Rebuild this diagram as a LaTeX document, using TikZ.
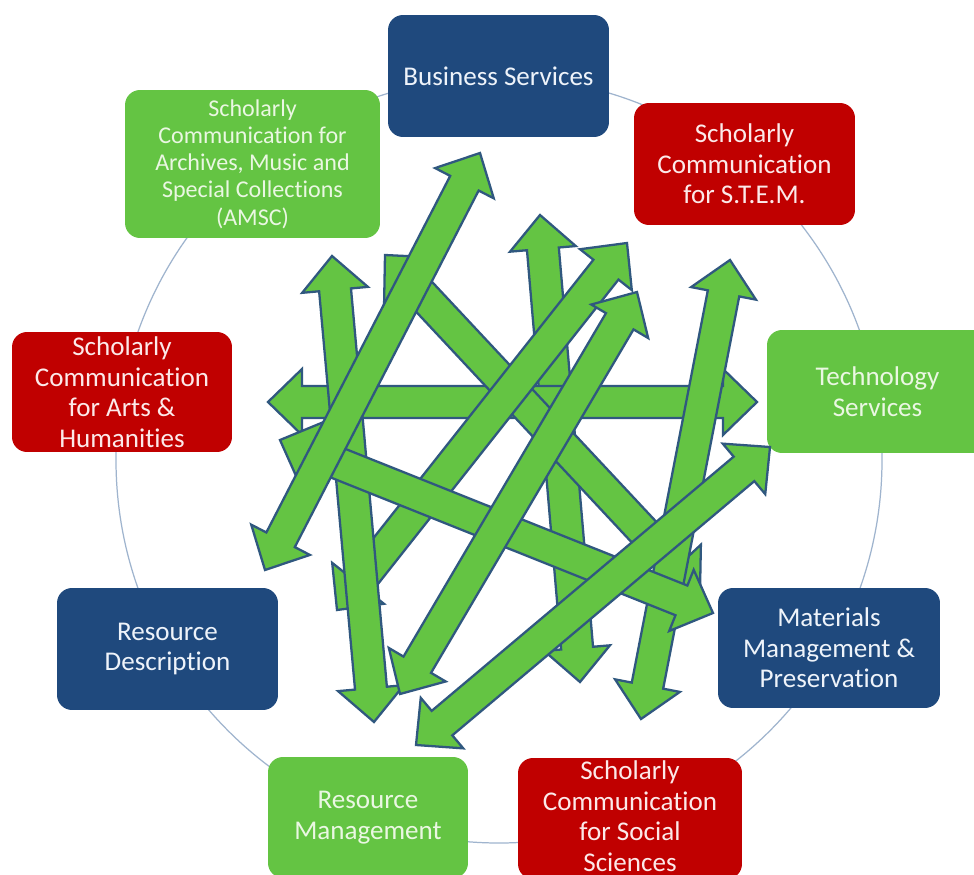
\documentclass[tikz,border=0pt]{standalone}
\usepackage{fontspec}
\setmainfont{Carlito}[Ligatures=NoCommon]
\usetikzlibrary{calc}
\definecolor{boxblue}{HTML}{1F497D}
\definecolor{boxred}{HTML}{C00000}
\definecolor{boxgreen}{HTML}{64C443}
\definecolor{arrline}{HTML}{30587F}
\definecolor{ringcol}{HTML}{9FB4CE}
\definecolor{txtgreen}{HTML}{EAF7E2}
\definecolor{txtred}{HTML}{FCE9E9}
\definecolor{txtblue}{HTML}{EEF3FA}
\def\HL{0.68cm}\def\HW{0.66cm}\def\SW{0.32cm}
\newcommand\dblblockarrow[2]{%
  \coordinate (#1#2a) at ($(#1)!\HL!(#2)$);
  \coordinate (#1#2b) at ($(#2)!\HL!(#1)$);
  \filldraw[arrowbody] (#1)
    -- ($(#1#2a)!\HW!90:(#2)$)
    -- ($(#1#2a)!\SW!90:(#2)$)
    -- ($(#1#2b)!\SW!-90:(#1)$)
    -- ($(#1#2b)!\HW!-90:(#1)$)
    -- (#2)
    -- ($(#1#2b)!\HW!90:(#1)$)
    -- ($(#1#2b)!\SW!90:(#1)$)
    -- ($(#1#2a)!\SW!-90:(#2)$)
    -- ($(#1#2a)!\HW!-90:(#2)$)
    -- cycle;
}
\begin{document}
\begin{tikzpicture}[x=0.02cm,y=-0.02cm,
  arrowbody/.style={fill=boxgreen,draw=arrline,line width=1.3pt,line join=miter},
  ring/.style={draw=ringcol,line width=0.7pt},
  card/.style={rounded corners=0.3cm,inner sep=0pt,align=center,
    font=\fontsize{15.4}{17.4}\selectfont,minimum width=4.42cm,minimum height=2.44cm},
  bluecard/.style={card,fill=boxblue,text=txtblue},
  redcard/.style={card,fill=boxred,text=txtred},
  greencard/.style={card,fill=boxgreen,text=txtgreen}]
\useasboundingbox (0,0) rectangle (974,875);
\clip (0,0) rectangle (974,875);
\fill[white] (0,0) rectangle (974,875);
\draw[ring] (499,460) circle[radius=383];

\node[bluecard] (bs) at (498.5,76) {Business Services};
\node[redcard] (stem) at (744.5,164) {Scholarly\\Communication\\for S.T.E.M.};
\node[greencard,minimum height=2.46cm] (tech) at (877.5,391.5) {Technology\\Services};
\node[bluecard,minimum width=4.44cm,minimum height=2.4cm] (mat) at (829,648) {Materials\\Management \&\\Preservation};
\node[redcard,minimum width=4.48cm,minimum height=2.42cm] (soc) at (630,818.5) {};
\node[text=txtred,align=center,inner sep=0pt,font=\fontsize{15.4}{17.4}\selectfont] (soctext) at (630,816) {Scholarly\\Communication\\for Social\\Sciences};
\node[greencard,minimum width=4.0cm,minimum height=2.42cm] (rm) at (368,817.5) {Resource\\Management};
\node[bluecard] (rd) at (167.5,649) {Resource\\Description};
\node[redcard,minimum width=4.4cm,minimum height=2.4cm] (arts) at (122,392) {Scholarly\\Communication\\for Arts \&\\Humanities};
\node[greencard,minimum width=5.1cm,minimum height=2.96cm,font=\fontsize{13.7}{15.5}\selectfont] (amsc) at (252.5,164) {Scholarly\\Communication for\\Archives, Music and\\Special Collections\\(AMSC)};

\coordinate (s1) at (268,402);  \coordinate (e1) at (757,402);
\coordinate (s2) at (480,153);  \coordinate (e2) at (265,570);
\coordinate (s3) at (332,256);  \coordinate (e3) at (374,722);
\coordinate (s4) at (280,440);  \coordinate (e4) at (713,613);
\coordinate (s5) at (385,255);  \coordinate (e5) at (700,592);
\coordinate (s6) at (540,215);  \coordinate (e6) at (580,682);
\coordinate (s7) at (627,243);  \coordinate (e7) at (337,610);
\coordinate (s8) at (637,292);  \coordinate (e8) at (400,694);
\coordinate (s9) at (730,260);  \coordinate (e9) at (641,719);
\coordinate (s10) at (770,447); \coordinate (e10) at (416,745);

\dblblockarrow{s6}{e6}
\dblblockarrow{s1}{e1}
\dblblockarrow{s5}{e5}
\dblblockarrow{s9}{e9}
\dblblockarrow{s7}{e7}
\dblblockarrow{s3}{e3}
\dblblockarrow{s4}{e4}
\dblblockarrow{s8}{e8}
\dblblockarrow{s2}{e2}
\dblblockarrow{s10}{e10}
\end{tikzpicture}
\end{document}
